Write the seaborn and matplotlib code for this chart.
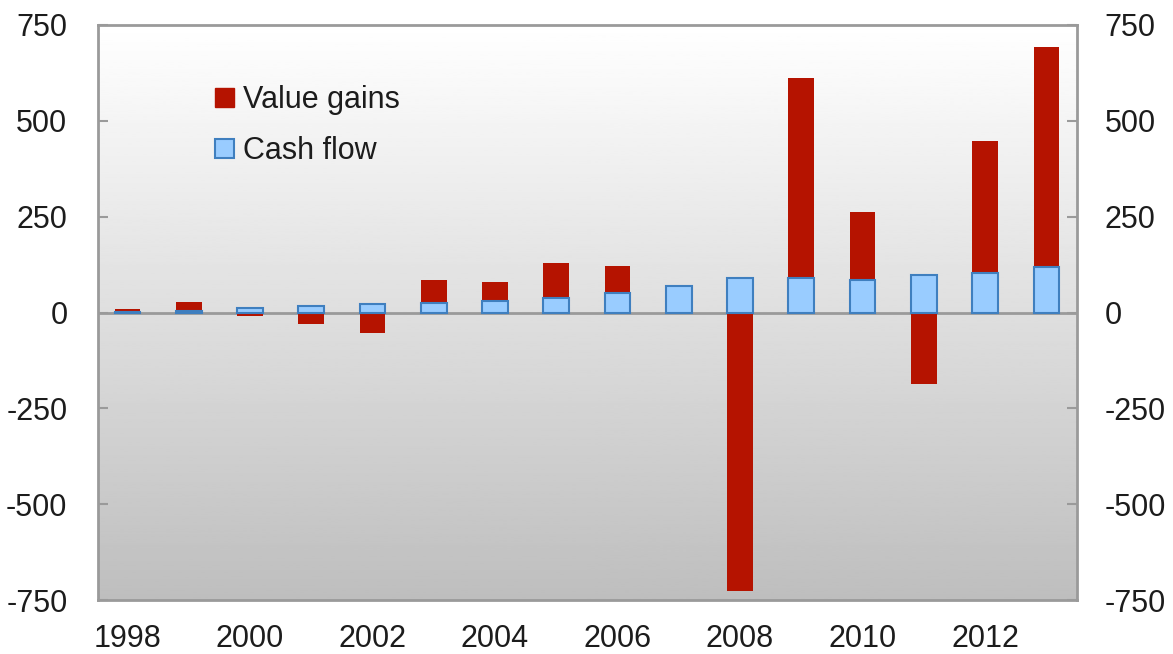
import numpy as np
import pandas as pd
import matplotlib
matplotlib.use("Agg")
import matplotlib.pyplot as plt
import seaborn as sns
from matplotlib.patches import Patch

years = [str(y) for y in range(1998, 2014)]
cash_flow = [1, 3, 11, 18, 23, 26, 30, 38, 50, 70, 91, 90, 85, 98, 104, 120]
value_gains = [7, 25, -8, -30, -53, 60, 50, 92, 71, -3, -726, 522, 178, -186, 344, 572]
y_ticks = [-750, -500, -250, 0, 250, 500, 750]
x_labels = [y if int(y) % 2 == 0 else "" for y in years]

RED = "#B51300"
BLUE_FILL = "#99CCFF"
BLUE_EDGE = "#3F7FBF"
TEXT = "#1c1c1c"
GRAY = "#9a9a9a"
FS = 22

sns.set_theme(style="white")
plt.rcParams["font.family"] = ["Liberation Sans", "DejaVu Sans"]

df = pd.DataFrame({"year": years, "cash": cash_flow, "vg": value_gains})
# red bar spans from 0 to stacked top when positive, or down to value when negative
df["red_top"] = np.where(df["vg"] > 0, df["cash"] + df["vg"], df["vg"])

fig = plt.figure(figsize=(11.73, 6.54), dpi=100)
ax = fig.add_axes([98 / 1173, 1 - 600 / 654, (1077 - 98) / 1173, (600 - 25) / 654])

# gradient background
grad = np.linspace(1.0, 0.745, 256).reshape(-1, 1)
ax.imshow(grad, cmap="gray", vmin=0, vmax=1, aspect="auto",
          extent=[0, 1, 0, 1], transform=ax.transAxes, zorder=0)

ax.axhline(0, color=GRAY, lw=2, zorder=1.5)

sns.barplot(data=df, x="year", y="red_top", color=RED, saturation=1,
            width=0.42, ax=ax, linewidth=0, zorder=2)
sns.barplot(data=df, x="year", y="cash", color=BLUE_FILL, saturation=1,
            width=0.42, ax=ax, edgecolor=BLUE_EDGE, linewidth=1.5, zorder=3)

ax.set_xlim(-0.48, 15.5)
ax.set_ylim(-750, 750)
ax.set_xlabel("")
ax.set_ylabel("")
ax.set_yticks(y_ticks)
ax.set_yticklabels([str(v) for v in y_ticks])
ax.set_xticks(range(len(years)))
ax.set_xticklabels(x_labels)
ax.tick_params(axis="x", length=0, pad=17, labelsize=FS, labelcolor=TEXT)
ax.tick_params(axis="y", direction="in", length=7, width=1.5, color=GRAY,
               pad=22, labelsize=FS, labelcolor=TEXT, left=True)

for s in ax.spines.values():
    s.set_color(GRAY)
    s.set_linewidth(2)

ax2 = ax.twinx()
ax2.set_ylim(-750, 750)
ax2.set_yticks(y_ticks)
ax2.set_yticklabels([str(v) for v in y_ticks])
ax2.tick_params(axis="y", direction="in", length=7, width=1.5, color=GRAY,
                pad=20, labelsize=FS, labelcolor=TEXT, right=True)
for s in ax2.spines.values():
    s.set_visible(False)

handles = [Patch(facecolor=RED, edgecolor=RED, label="Value gains"),
           Patch(facecolor=BLUE_FILL, edgecolor=BLUE_EDGE, linewidth=1.5, label="Cash flow")]
leg = ax.legend(handles=handles, loc="upper left", bbox_to_anchor=(0.12, 0.895),
                frameon=False, fontsize=FS, handlelength=0.6, handleheight=0.6,
                handletextpad=0.3, labelspacing=0.68, borderaxespad=0, borderpad=0)
for t in leg.get_texts():
    t.set_color(TEXT)

fig.savefig("out.png", dpi=100)
